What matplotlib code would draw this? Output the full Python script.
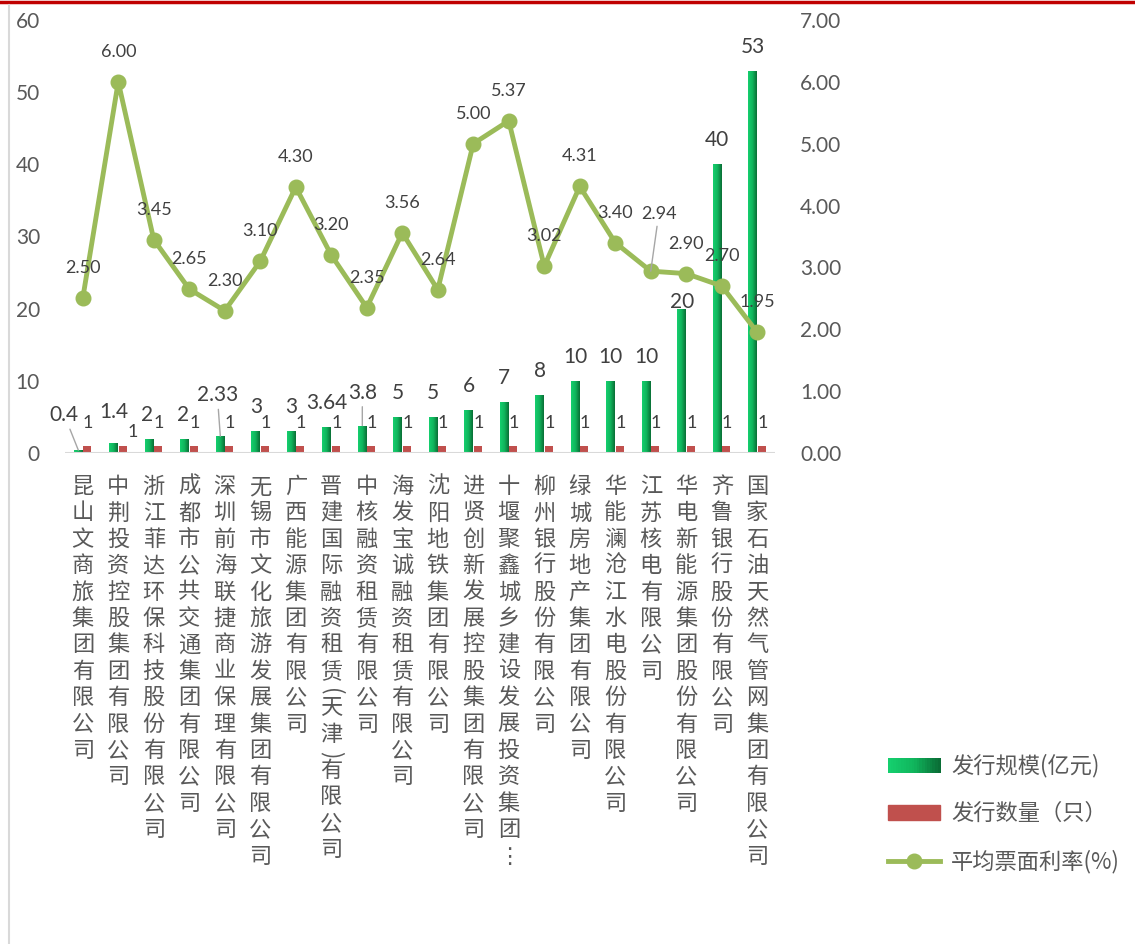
import numpy as np
import matplotlib
matplotlib.use("Agg")
import matplotlib.pyplot as plt
from matplotlib.colors import LinearSegmentedColormap
from matplotlib.patches import Rectangle
from matplotlib.lines import Line2D
from matplotlib.legend_handler import HandlerBase

# issuers (vertical labels), issue size, issue count, avg coupon rate
companies = [
    "昆山文商旅集团有限公司",
    "中荆投资控股集团有限公司",
    "浙江菲达环保科技股份有限公司",
    "成都市公共交通集团有限公司",
    "深圳前海联捷商业保理有限公司",
    "无锡市文化旅游发展集团有限公司",
    "广西能源集团有限公司",
    "晋建国际融资租赁(天津)有限公司",
    "中核融资租赁有限公司",
    "海发宝诚融资租赁有限公司",
    "沈阳地铁集团有限公司",
    "进贤创新发展控股集团有限公司",
    "十堰聚鑫城乡建设发展投资集团⋮",
    "柳州银行股份有限公司",
    "绿城房地产集团有限公司",
    "华能澜沧江水电股份有限公司",
    "江苏核电有限公司",
    "华电新能源集团股份有限公司",
    "齐鲁银行股份有限公司",
    "国家石油天然气管网集团有限公司",
]
scale = [0.4, 1.4, 2, 2, 2.33, 3, 3, 3.64, 3.8, 5, 5, 6, 7, 8, 10, 10, 10, 20, 40, 53]
scale_txt = ["0.4", "1.4", "2", "2", "2.33", "3", "3", "3.64", "3.8", "5", "5", "6", "7", "8",
             "10", "10", "10", "20", "40", "53"]
count = [1] * 20
rate = [2.50, 6.00, 3.45, 2.65, 2.30, 3.10, 4.30, 3.20, 2.35, 3.56, 2.64, 5.00, 5.37, 3.02,
        4.31, 3.40, 2.94, 2.90, 2.70, 1.95]

GRAY = "#595959"
LINE_C = "#9BBB59"
RED_C = "#C0504D"
green_cmap = LinearSegmentedColormap.from_list("g", ["#15CF6E", "#10B55C", "#0A6E36"])

plt.rcParams['font.family'] = ['Lato', 'DejaVu Sans']
cjk = ['Noto Sans CJK SC', 'DejaVu Sans']

fig = plt.figure(figsize=(11.35, 9.44), dpi=100)
ax = fig.add_axes([65 / 1135, 1 - 453 / 944, 710 / 1135, 433 / 944])
ax2 = ax.twinx()

x = np.arange(len(companies))
w = 0.25
bars = ax.bar(x - w / 2, scale, width=w, color="#10B55C", zorder=2)
grad = np.linspace(0, 1, 64).reshape(1, -1)
for b in bars:
    im = ax.imshow(grad, extent=[b.get_x(), b.get_x() + b.get_width(), 0, b.get_height()],
                   aspect='auto', cmap=green_cmap, zorder=3)
    im.set_clip_path(b)
ax.bar(x + w / 2, count, width=w * 0.9, color=RED_C, zorder=2)

ax.set_xlim(-0.5, len(companies) - 0.5)
ax.set_ylim(0, 60)
ax.set_yticks(range(0, 61, 10))
ax2.set_ylim(0, 7)
ax2.set_yticks(np.arange(0, 7.01, 1))
ax2.set_yticklabels([f"{v:.2f}" for v in np.arange(0, 7.01, 1)])

for a in (ax, ax2):
    for s in a.spines.values():
        s.set_visible(False)
    a.tick_params(length=0, labelsize=15, labelcolor=GRAY)
ax.tick_params(axis='y', pad=18)
ax2.tick_params(axis='y', pad=18)
ax.set_xticks([])
ax.axhline(0, color="#D9D9D9", lw=1.5, zorder=4)

ax2.plot(x, rate, color=LINE_C, lw=3.5, marker='o', ms=10.5, zorder=5)

# label nudges (pixels) for crowded bar labels
green_off = {0: (-14, 35), 1: (0, 31), 2: (-2, 24), 3: (-2, 24), 4: (-3, 41), 8: (0, 33),
             17: (0, 7)}
leader = {0, 4, 8}
for i, v in enumerate(scale):
    dx, dy = green_off.get(i, (0, 24))
    kw = {}
    if i in leader:
        kw['arrowprops'] = dict(arrowstyle='-', color="#A6A6A6", lw=1, shrinkA=1, shrinkB=0)
    ax.annotate(scale_txt[i], xy=(x[i] - w / 2, v), xytext=(dx, dy), textcoords='offset pixels',
                ha='center', va='center', fontsize=15, color="#404040", zorder=6, **kw)

red_off = {1: (10, 14)}
for i, v in enumerate(count):
    dx, dy = red_off.get(i, (1, 23))
    ax.annotate(str(v), xy=(x[i] + w / 2, v), xytext=(dx, dy), textcoords='offset pixels',
                ha='center', va='center', fontsize=13, color="#404040", zorder=6)

for i, v in enumerate(rate):
    if i == 16:
        ax2.annotate(f"{v:.2f}", xy=(x[i], v), xytext=(8, 57), textcoords='offset pixels',
                     ha='center', va='center', fontsize=13, color="#404040", zorder=6,
                     arrowprops=dict(arrowstyle='-', color="#A6A6A6", lw=1, shrinkA=1, shrinkB=0))
    else:
        ax2.annotate(f"{v:.2f}", xy=(x[i], v), xytext=(0, 30), textcoords='offset pixels',
                     ha='center', va='center', fontsize=13, color="#404040", zorder=6)

# vertical category labels, one character per row; brackets turned sideways
for i, name in enumerate(companies):
    y = -22
    for ch in name:
        if ch in "()":
            ax.annotate(ch, xy=(x[i], 0), xytext=(0, y - 2), textcoords='offset pixels',
                        ha='center', va='top', fontsize=16, color=GRAY, family=cjk,
                        rotation=-90, annotation_clip=False)
            y -= 10
        else:
            ax.annotate(ch, xy=(x[i], 0), xytext=(0, y), textcoords='offset pixels',
                        ha='center', va='top', fontsize=16, color=GRAY, family=cjk,
                        annotation_clip=False)
            y -= 26.4


class GradHandler(HandlerBase):
    def create_artists(self, legend, orig, xd, yd, width, height, fontsize, trans):
        n = 20
        arts = []
        for k in range(n):
            r = Rectangle((xd + width * k / n, yd), width / n + 0.3, height,
                          color=green_cmap(k / (n - 1)), transform=trans, lw=0)
            arts.append(r)
        return arts


h1 = Rectangle((0, 0), 1, 1)
h2 = Rectangle((0, 0), 1, 1, color=RED_C)
h3 = Line2D([], [], color=LINE_C, lw=3.5, marker='o', ms=10.5)
leg = fig.legend([h1, h2, h3], ["发行规模(亿元)", "发行数量（只）", "平均票面利率(%)"],
                 handler_map={h1: GradHandler()}, loc='upper left',
                 bbox_to_anchor=(868 / 1135, 1 - 734 / 944), frameon=False,
                 prop={'family': cjk, 'size': 16}, labelcolor=GRAY,
                 handlelength=2.35, handleheight=0.65, handletextpad=0.5, labelspacing=1.1)

# chart frame pieces: red top rule and left grey border
fig.add_artist(Line2D([0, 1], [1 - 1.5 / 944, 1 - 1.5 / 944], color="#C00000", lw=2.5))
fig.add_artist(Line2D([8.5 / 1135, 8.5 / 1135], [0, 1 - 5 / 944], color="#D9D9D9", lw=1.5))

fig.savefig("out.png", dpi=100)
